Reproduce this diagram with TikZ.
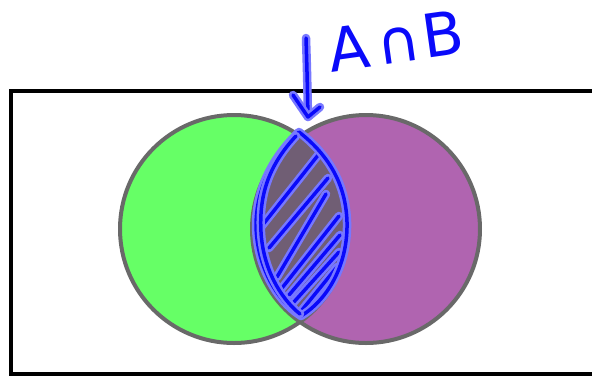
\documentclass[tikz,border=0pt]{standalone}
\usepackage{fontspec}
\newfontfamily\inkfont{DejaVu Sans}
\definecolor{setA}{RGB}{102,255,102}
\definecolor{setB}{RGB}{176,100,176}
\definecolor{setAB}{RGB}{112,94,116}
\definecolor{rimgray}{RGB}{105,105,105}
\definecolor{inkblue}{RGB}{10,10,250}
\definecolor{inkglow}{RGB}{120,120,255}

\begin{document}
\begin{tikzpicture}[x=1pt, y=-1pt,
  rim/.style={draw=rimgray, line width=4},
  ink/.style={draw=inkblue, line width=3.5, line cap=round, line join=round,
    preaction={draw=inkglow, line width=8.5, line cap=round, line join=round}}] % {{{
\useasboundingbox (0,0) rectangle (592,376);
\clip (0,0) rectangle (592,376);
\pgfmathsetmacro{\radius}{114}
\coordinate (cA) at (234,229);
\coordinate (cB) at (366,229);
% universe {{{
\draw[line width=4] (11,91) rectangle (620,373.5);
% }}}
% the two sets and their overlap {{{
\fill[setA] (cA) circle (\radius);
\fill[setB] (cB) circle (\radius);
\begin{scope}
\clip (cA) circle (\radius);
\fill[setAB] (cB) circle (\radius);
\end{scope}
\draw[rim] (cA) circle (\radius);
\draw[rim] (cB) circle (\radius);
% }}}
% hand-drawn hatching of the overlap {{{
\foreach \ax/\ay/\bx/\by in {261/227/319/154, 269/248/328/178, 277/277/326/194,
    282/288/339/216, 289/295/340/235, 293/303/339/252, 302/310/337/267}
  \draw[ink] (\ax,\ay) -- (\bx,\by);
\draw[ink] (299,132) .. controls (272,158) and (256,190) .. (256,226)
  .. controls (257,266) and (276,300) .. (301,316)
  .. controls (330,298) and (348,262) .. (347,222)
  .. controls (346,186) and (330,156) .. (299,132);
\draw[ink] (296,136) .. controls (268,166) and (259,196) .. (261,232)
  .. controls (263,268) and (280,298) .. (300,314);
% }}}
% label and arrow {{{
\node[text=inkblue, rotate=8] (lbl) at (396,41)
  {\inkfont\fontsize{60}{60}\selectfont A\hspace{7pt}∩\hspace{3pt}B};
\coordinate (tail) at (306,38);
\coordinate (tip) at (308,117);
\draw[ink] (tail) .. controls (307,70) .. (tip);
\draw[ink] (tip) ++(-15,-22) -- (tip) -- ++(12,-10);
% }}}
\end{tikzpicture}
\end{document}
